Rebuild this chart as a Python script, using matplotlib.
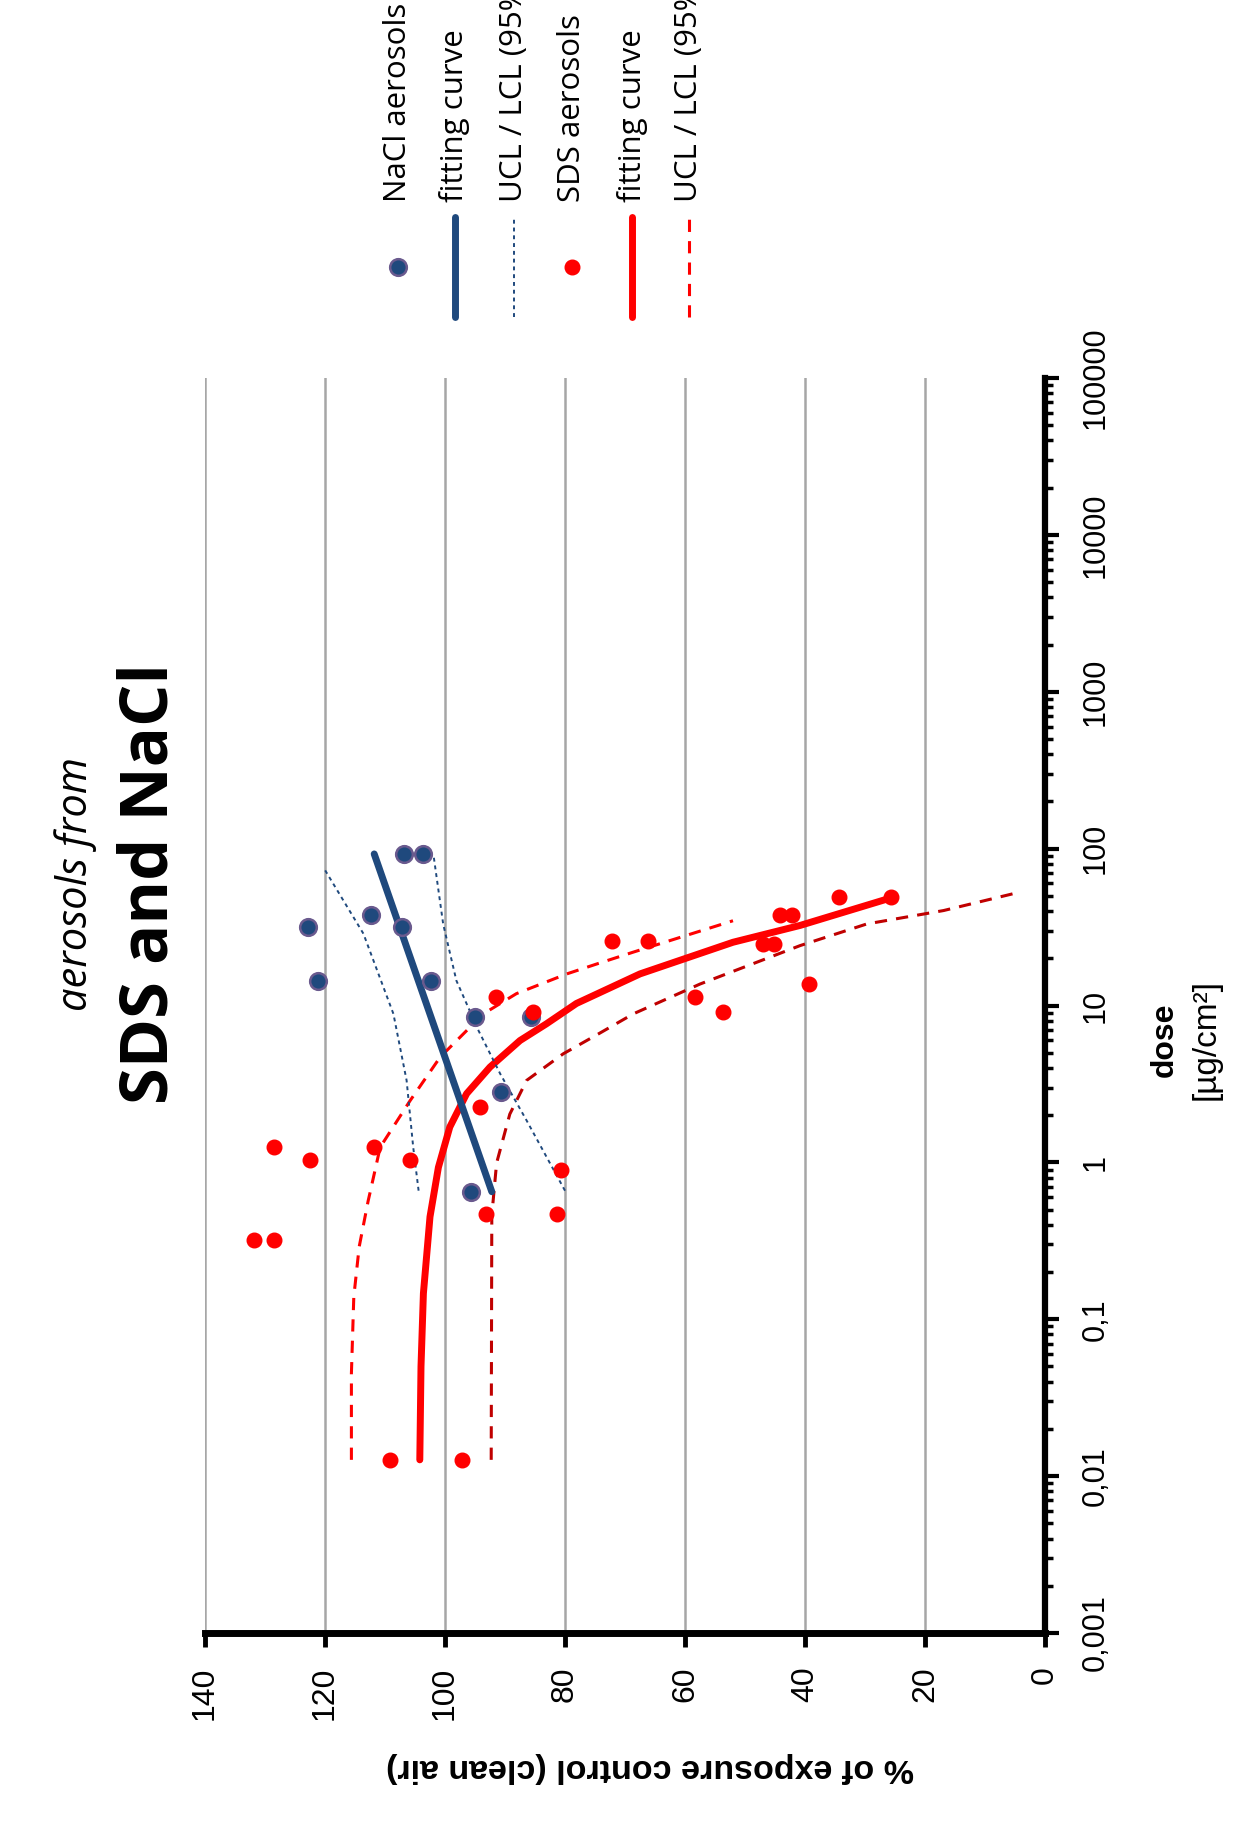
import numpy as np
import matplotlib
matplotlib.use("Agg")
import matplotlib.pyplot as plt
from matplotlib.lines import Line2D

# ---- data (dose in ug/cm2, response in % of clean-air control) ----
nacl_dose = [92.5, 92.5, 38, 31.6, 31.6, 14.4, 14.4, 8.4, 8.4, 2.8, 0.65]
nacl_pct = [106.8, 103.7, 112.4, 107.1, 122.8, 121.2, 102.4, 95.0, 85.6, 90.6, 95.6]

nacl_fit_dose = [0.65, 92.5]
nacl_fit_pct = [92.2, 111.8]

nacl_ucl_dose = [0.66, 1.25, 3.33, 8.85, 28.7, 73]
nacl_ucl_pct = [104.4, 105.3, 106.4, 108.6, 113.6, 120.0]
nacl_lcl_dose = [0.66, 1.85, 3.67, 6.9, 14.4, 33, 90]
nacl_lcl_pct = [80.0, 86.4, 90.8, 94.4, 98.1, 100.3, 101.9]

sds_dose = [25.7, 25.7, 38, 38, 49, 49, 24.7, 24.7, 11.3, 9.06, 13.7, 9.06,
            0.90, 11.3, 2.25, 1.25, 1.03, 1.25, 1.03, 0.47, 0.47, 0.32, 0.32,
            0.0127, 0.0127]
sds_pct = [72.1, 66.1, 44.2, 42.1, 34.3, 25.7, 47.0, 45.2, 58.3, 53.6, 39.4, 85.3,
           80.6, 91.5, 94.1, 128.5, 122.5, 111.8, 105.9, 93.1, 81.3, 131.8, 128.5,
           109.1, 97.2]

sds_fit_dose = [0.0127, 0.05, 0.146, 0.45, 0.93, 1.68, 2.74, 4.05, 5.98, 7.64,
                10.3, 15.9, 25.3, 32.4, 49]
sds_fit_pct = [104.2, 104.0, 103.6, 102.5, 101.1, 99.2, 96.4, 92.5, 87.5, 83.1,
               78.1, 67.5, 52.0, 40.8, 25.3]

sds_ucl_dose = [0.0127, 0.045, 0.139, 0.29, 0.57, 0.64, 1.25, 2.48, 4.69, 8.85,
                11.9, 15.9, 18.4, 21.9, 34.7]
sds_ucl_pct = [115.6, 115.6, 115.2, 114.3, 112.8, 112.5, 110.8, 105.8, 100.8, 93.6,
               88.1, 79.7, 74.7, 68.6, 52.0]
sds_lcl_dose = [0.0127, 0.46, 0.99, 2.03, 3.33, 4.92, 6.6, 8.85, 13.7, 24.1,
                33.1, 40.3, 51.6]
sds_lcl_pct = [92.3, 92.2, 91.4, 89.2, 86.4, 80.3, 74.4, 68.6, 57.5, 40.8,
               29.7, 16.9, 5.3]

pct_ticks = [0, 20, 40, 60, 80, 100, 120, 140]
dose_ticks = [0.001, 0.01, 0.1, 1, 10, 100, 1000, 10000, 100000]
dose_labels = ["0,001", "0,01", "0,1", "1", "10", "100", "1000", "10000", "100000"]

legend_labels = ["NaCl aerosols", "fitting curve", "UCL / LCL (95%)",
                 "SDS aerosols", "fitting curve", "UCL / LCL (95%)"]

NAVY = "#1f497d"
RED = "#ff0000"
DARKRED = "#c00000"
narrow = ["Liberation Sans Narrow", "Liberation Sans", "DejaVu Sans"]
sans = ["Open Sans", "DejaVu Sans"]

W, H = 1241, 1836
fig = plt.figure(figsize=(W / 100, H / 100), dpi=100)
# chart is drawn turned by 90 degrees: percent runs along x (reversed), dose up the y axis
ax = fig.add_axes([205 / W, 1 - 1633 / H, 840 / W, 1255 / H])
ax.set_xlim(140, 0)
ax.set_yscale("log")
ax.set_ylim(0.001, 100000)

ax.plot(sds_ucl_pct, sds_ucl_dose, color=RED, lw=2.2, ls=(0, (4, 3)), zorder=3)
ax.plot(sds_lcl_pct, sds_lcl_dose, color=DARKRED, lw=2.2, ls=(0, (4, 3)), zorder=3)
ax.plot(sds_fit_pct, sds_fit_dose, color=RED, lw=5, solid_capstyle="round",
        solid_joinstyle="round", zorder=4)
ax.plot(nacl_ucl_pct, nacl_ucl_dose, color=NAVY, lw=1.4, ls=(0, (2, 2)), zorder=5)
ax.plot(nacl_lcl_pct, nacl_lcl_dose, color=NAVY, lw=1.4, ls=(0, (2, 2)), zorder=5)
ax.plot(nacl_fit_pct, nacl_fit_dose, color=NAVY, lw=5, solid_capstyle="round", zorder=6)
ax.plot(nacl_pct, nacl_dose, "o", color=NAVY, mec="#6a5a8e", mew=1.8, ms=12, zorder=7)
ax.plot(sds_pct, sds_dose, "o", color=RED, mec=RED, ms=10.5, zorder=8)

for s in ["top", "left"]:
    ax.spines[s].set_visible(False)
ax.spines["bottom"].set_linewidth(5)
ax.spines["right"].set_linewidth(4.5)
ax.spines["bottom"].set_zorder(10)
ax.spines["right"].set_zorder(10)

ax.set_xticks(pct_ticks)
ax.set_xticklabels([str(t) for t in pct_ticks], rotation=90, ha="center", va="top",
                   family=narrow, fontsize=23)
ax.tick_params(axis="x", direction="out", length=10, width=3.5, pad=14)
ax.xaxis.grid(True, color="#a6a6a6", lw=1.8, zorder=0)
ax.set_axisbelow(True)

ax.yaxis.tick_right()
ax.set_yticks(dose_ticks)
ax.set_yticklabels(dose_labels, rotation=90, ha="left", va="center",
                   family=narrow, fontsize=22)
ax.tick_params(axis="y", which="major", direction="out", length=10, width=3, pad=16)
ax.tick_params(axis="y", which="minor", direction="out", length=6, width=2.5)

# axis titles
fig.text(1165 / W, 1 - 1040 / H, "dose", rotation=90, ha="center", va="center",
         family=narrow, fontsize=23, fontweight="bold")
fig.text(1206 / W, 1 - 1040 / H, "[µg/cm²]", rotation=90, ha="center", va="center",
         family=narrow, fontsize=24)
fig.text(650 / W, 1 - 1768 / H, "% of exposure control (clean air)", rotation=180,
         ha="center", va="center", family=narrow, fontsize=24.5, fontweight="bold")

# chart title
fig.text(76 / W, 1 - 884 / H, "aerosols from", rotation=90, ha="center", va="center",
         family=sans, fontsize=30, style="italic")
fig.text(150 / W, 1 - 884 / H, "SDS and NaCl", rotation=90, ha="center", va="center",
         family=sans, fontsize=48, fontweight="bold")

# legend, drawn by hand because it is turned too
cols = [398, 455, 514, 572, 632, 689]
handles = [
    dict(marker="o", color=NAVY, mec="#6a5a8e", ms=12, mew=1.8, lw=0),
    dict(color=NAVY, lw=5, solid_capstyle="round"),
    dict(color=NAVY, lw=1.4, ls=(0, (2, 2))),
    dict(marker="o", color=RED, ms=10.5, lw=0),
    dict(color=RED, lw=5, solid_capstyle="round"),
    dict(color=RED, lw=2.2, ls=(0, (4, 3))),
]
for cx, lab, st in zip(cols, legend_labels, handles):
    xf = cx / W
    if st.get("marker"):
        fig.add_artist(Line2D([xf], [1 - 267 / H], transform=fig.transFigure, **st))
    else:
        fig.add_artist(Line2D([xf, xf], [1 - 317 / H, 1 - 217 / H],
                              transform=fig.transFigure, **st))
    fig.text(xf, 1 - 202 / H, lab, rotation=90, ha="center", va="bottom",
             family=sans, fontsize=22.5)

fig.savefig("out.png", dpi=100)
